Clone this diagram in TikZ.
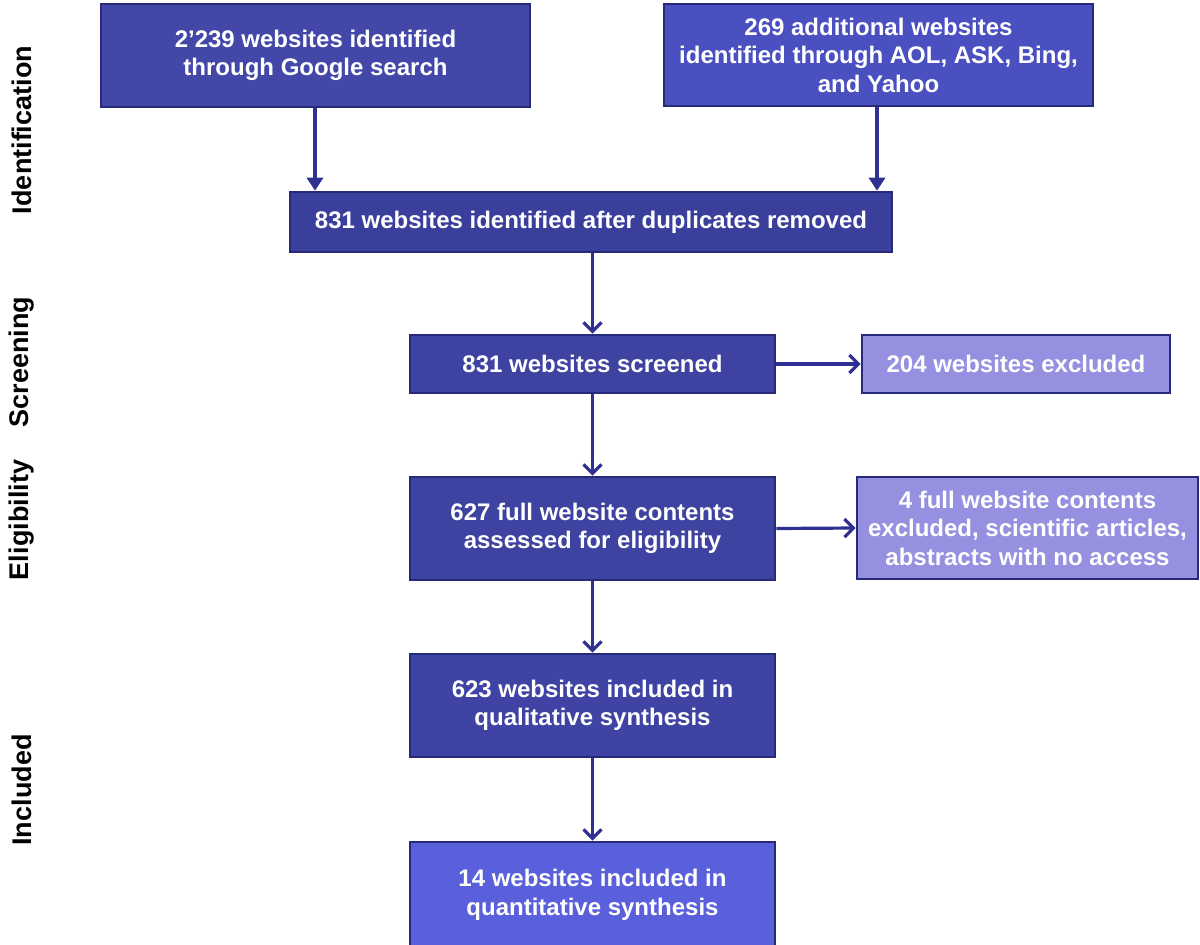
\documentclass[tikz,border=0pt]{standalone}
\usepackage{fontspec}
\setmainfont{Liberation Sans}
\usetikzlibrary{arrows.meta}
\definecolor{bordc}{HTML}{262A78}
\definecolor{linec}{HTML}{2E3192}
\definecolor{cA}{HTML}{4247A8}
\definecolor{cB}{HTML}{4B50C0}
\definecolor{cD}{HTML}{3A3F9C}
\definecolor{cS}{HTML}{3E42A0}
\definecolor{cQ}{HTML}{3F44A4}
\definecolor{cN}{HTML}{5A5FDC}
\definecolor{cE}{HTML}{9690E0}
\begin{document}
\begin{tikzpicture}[x=1pt,y=-1pt,
  box/.style={draw=bordc,line width=2.6pt,text=white,font=\bfseries\fontsize{24}{28.5}\selectfont,align=center,inner sep=0pt},
  phase/.style={rotate=90,font=\bfseries\fontsize{27}{30}\selectfont,text=black},
  conn/.style={draw=linec,line width=3.2pt},
  tri/.style={conn,-{Triangle[length=13pt,width=16pt]}},
  barb/.style={conn,-{Straight Barb[length=9pt,width=18pt,line width=3.2pt]}}]
\useasboundingbox (0,0) rectangle (1200,945);
\node[box,fill=cA,minimum width=429pt,minimum height=103pt] (g) at (315.5,55.5) {2’239 websites identified\\through Google search};
\node[box,fill=cB,minimum width=429pt,minimum height=102pt] (y) at (878.5,55) {269 additional websites\\identified through AOL, ASK, Bing,\\and Yahoo};
\node[box,fill=cD,minimum width=602pt,minimum height=60pt] (d) at (591,222) {831 websites identified after duplicates removed};
\node[box,fill=cS,minimum width=365pt,minimum height=58pt] (s) at (592.5,364) {831 websites screened};
\node[box,fill=cE,minimum width=308pt,minimum height=58pt] (e1) at (1016,364) {204 websites excluded};
\node[box,fill=cS,minimum width=365pt,minimum height=103pt] (f) at (592.5,528.5) {627 full website contents\\assessed for eligibility};
\node[box,fill=cE,minimum width=341pt,minimum height=102pt] (e2) at (1027.5,528) {4 full website contents\\excluded, scientific articles,\\abstracts with no access};
\node[box,fill=cQ,minimum width=365pt,minimum height=103pt] (q) at (592.5,705.5) {623 websites included in\\qualitative synthesis};
\node[box,fill=cN,minimum width=365pt,minimum height=106pt] (n) at (592.5,895) {14 websites included in\\quantitative synthesis};
\node[phase] (p1) at (22,130) {Identification};
\node[phase] (p2) at (22,362) {Screening};
\node[phase] (p3) at (22,520) {Eligibility};
\node[phase] (p4) at (22,790) {Included};
\coordinate (gx) at (315,0);
\coordinate (yx) at (877,0);
\draw[tri] (g.south -| gx) -- (d.north -| gx);
\draw[tri] (y.south -| yx) -- (d.north -| yx);
\draw[barb] (d.south -| s.north) -- (s.north);
\draw[barb] (s.south) -- (f.north);
\draw[barb] (f.south) -- (q.north);
\draw[barb] (q.south) -- (n.north);
\draw[barb] (s.east) -- (e1.west);
\draw[barb] (f.east) -- (e2.west);
\end{tikzpicture}
\end{document}
